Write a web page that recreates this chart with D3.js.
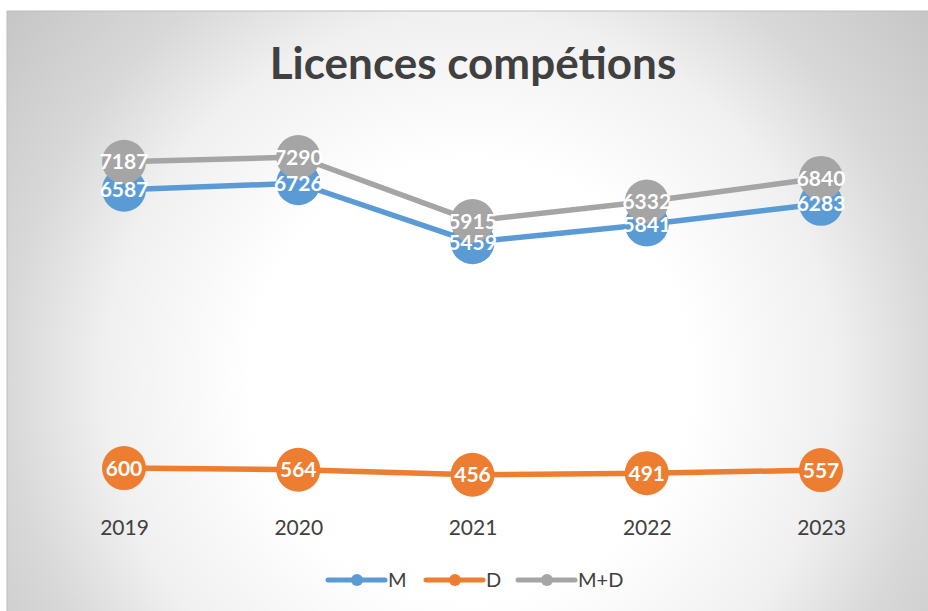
<!DOCTYPE html>
<html>
<head>
<meta charset="utf-8">
<script src="https://cdn.jsdelivr.net/npm/d3@7"></script>
<style>
  body { margin: 0; background: #fff; }
  svg { display: block; }
</style>
</head>
<body>
<div id="chart"></div>
<script>
var w = 928,
    h = 611;

// data
var years = ["2019", "2020", "2021", "2022", "2023"];
var valuesM = [6587, 6726, 5459, 5841, 6283];
var valuesD = [600, 564, 456, 491, 557];
var valuesMD = [7187, 7290, 5915, 6332, 6840];
var seriesNames = ["M", "D", "M+D"];
var seriesColors = ["#5b9bd5", "#ed7d31", "#a5a5a5"];

var series = [
  { name: seriesNames[0], color: seriesColors[0], values: valuesM },
  { name: seriesNames[1], color: seriesColors[1], values: valuesD },
  { name: seriesNames[2], color: seriesColors[2], values: valuesMD }
];

var svg = d3.select("#chart")
  .append("svg")
  .attr("width", w)
  .attr("height", h);

// background gradient
var defs = svg.append("defs");
var grad = defs.append("radialGradient")
  .attr("id", "bg")
  .attr("gradientUnits", "userSpaceOnUse")
  .attr("cx", 470).attr("cy", 380).attr("r", 610);
grad.append("stop").attr("offset", 0).attr("stop-color", "#ffffff");
grad.append("stop").attr("offset", 0.36).attr("stop-color", "#ffffff");
grad.append("stop").attr("offset", 0.6).attr("stop-color", "#f0f0f0");
grad.append("stop").attr("offset", 0.76).attr("stop-color", "#d8d8d8");
grad.append("stop").attr("offset", 1).attr("stop-color", "#c3c3c3");

svg.append("rect")
  .attr("x", 7).attr("y", 11)
  .attr("width", w - 6).attr("height", h - 10)
  .attr("fill", "url(#bg)")
  .attr("stroke", "#bdbdbd")
  .attr("stroke-width", 1);

// title
svg.append("text")
  .attr("x", 473)
  .attr("y", 79)
  .attr("text-anchor", "middle")
  .attr("font-family", "Lato, 'Open Sans', sans-serif")
  .attr("font-weight", "bold")
  .attr("font-size", "44px")
  .attr("fill", "#404040")
  .text("Licences compétions");

// scales
var x = d3.scalePoint()
  .domain(years)
  .range([124, 821]);

var y = d3.scaleLinear()
  .domain([0, 8000])
  .range([496, 124]);

// x axis labels
var xAxis = d3.axisBottom(x).tickSize(0).tickPadding(0);
var gx = svg.append("g")
  .attr("transform", "translate(0,520)")
  .call(xAxis);
gx.select(".domain").remove();
gx.selectAll("text")
  .attr("font-family", "Lato, 'Open Sans', sans-serif")
  .attr("font-size", "21px")
  .attr("fill", "#404040");

var line = d3.line()
  .x(function(d, i) { return x(years[i]); })
  .y(function(d) { return y(d); });

// lines and markers
series.forEach(function(s) {
  svg.append("path")
    .datum(s.values)
    .attr("fill", "none")
    .attr("stroke", s.color)
    .attr("stroke-width", 5.5)
    .attr("stroke-linejoin", "round")
    .attr("d", line);
});

series.forEach(function(s) {
  svg.selectAll(".dot-" + s.name.replace("+", ""))
    .data(s.values)
    .enter()
    .append("circle")
    .attr("cx", function(d, i) { return x(years[i]); })
    .attr("cy", function(d) { return y(d); })
    .attr("r", 22)
    .attr("fill", s.color);
});

// data labels
series.forEach(function(s) {
  svg.selectAll(".lbl-" + s.name.replace("+", ""))
    .data(s.values)
    .enter()
    .append("text")
    .attr("x", function(d, i) { return x(years[i]); })
    .attr("y", function(d) { return y(d); })
    .attr("dy", "0.36em")
    .attr("text-anchor", "middle")
    .attr("font-family", "Lato, 'Open Sans', sans-serif")
    .attr("font-weight", "bold")
    .attr("font-size", "21px")
    .attr("fill", "#ffffff")
    .text(function(d) { return d; });
});

// legend
var legendX = [328, 426, 518];
var legend = svg.selectAll(".legend")
  .data(series)
  .enter()
  .append("g")
  .attr("transform", function(d, i) { return "translate(" + legendX[i] + ",580)"; });

legend.append("line")
  .attr("x1", 0).attr("x2", 57)
  .attr("y1", 0).attr("y2", 0)
  .attr("stroke", function(d) { return d.color; })
  .attr("stroke-width", 5)
  .attr("stroke-linecap", "round");

legend.append("circle")
  .attr("cx", 29).attr("cy", 0).attr("r", 6)
  .attr("fill", function(d) { return d.color; });

legend.append("text")
  .attr("x", 60)
  .attr("y", 0)
  .attr("dy", "0.36em")
  .attr("font-family", "Lato, 'Open Sans', sans-serif")
  .attr("font-size", "20px")
  .attr("fill", "#404040")
  .text(function(d) { return d.name; });
</script>
</body>
</html>
